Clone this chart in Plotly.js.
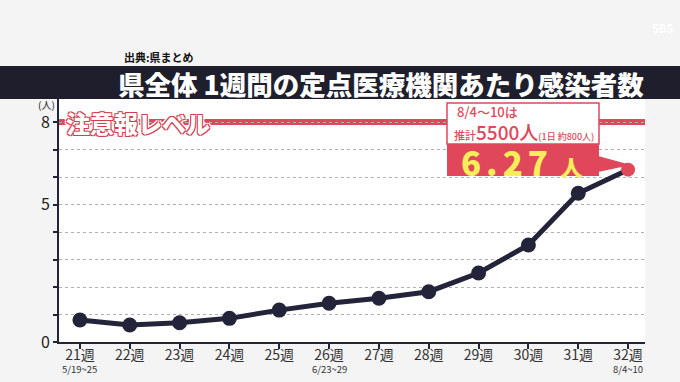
<!DOCTYPE html>
<html><head><meta charset="utf-8">
<script src="https://cdn.plot.ly/plotly-3.0.1.min.js"></script>
<style>html,body{margin:0;padding:0;background:#f4f4f4;}#chart{width:680px;height:382px;}</style>
</head><body><div id="chart"></div>
<script>
const weeks = ["21週","22週","23週","24週","25週","26週","27週","28週","29週","30週","31週","32週"];
const weekDates = ["5/19~25","","","","","6/23~29","","","","","","8/4~10"];
const perClinic = [0.8, 0.62, 0.7, 0.86, 1.16, 1.41, 1.59, 1.83, 2.51, 3.53, 5.41, 6.27];
const yTickVals = [0,1,2,3,4,5,6,7,8];
const yTickText = ["0","","","","","5","","","8"];
const alertLevel = 8;
const titleText = "県全体 1週間の定点医療機関あたり感染者数";
const sourceText = "出典:県まとめ";
const alertText = "注意報レベル";
const noteLine1 = "8/4〜10は";
const noteLine2a = "推計";
const noteLine2b = "5500人";
const noteLine2c = "(1日 約800人)";
const latestText = "6.27";
const unitText = "人";

const navy = "#23233a";
const red = "#e0475a";
const FONT = "Noto Sans CJK JP, sans-serif";

// plot area pixels
const L = 59, R = 645, T = 99, B = 342, W = 680, H = 382;
const px = x => (x - L) / (R - L);
const py = y => (B - y) / (B - T);

const n = perClinic.length;
const markerColors = perClinic.map((v,i) => i === n-1 ? red : navy);
const markerSizes = perClinic.map((v,i) => i === n-1 ? 14 : 15);

const trace = {
  x: weeks, y: perClinic, type: "scatter", mode: "lines+markers",
  line: {color: navy, width: 5},
  marker: {color: markerColors, size: markerSizes, opacity: 1, line: {width: 0}},
  opacity: 1, cliponaxis: false, hoverinfo: "skip"
};

const dateAnnotations = weeks.map((w,i) => weekDates[i] ? {
  xref: "x", yref: "paper", x: w, y: py(369), xanchor: "center", yanchor: "middle",
  text: weekDates[i], showarrow: false, font: {size: 9.5, color: "#333", family: FONT}
} : null).filter(a => a);

const layout = {
  width: W, height: H,
  paper_bgcolor: "#f4f4f4", plot_bgcolor: "#ffffff",
  margin: {l: L, r: W - R, t: T, b: H - B, pad: 0},
  showlegend: false,
  font: {family: FONT, color: "#222"},
  xaxis: {
    type: "category", range: [-0.42, 11.34], tickmode: "array",
    tickvals: weeks, ticktext: weeks,
    showline: true, linecolor: navy, linewidth: 2,
    ticks: "outside", ticklen: 5, tickwidth: 2, tickcolor: navy,
    ticklabelstandoff: -6,
    showgrid: false, zeroline: false,
    tickfont: {size: 14, color: "#333", family: FONT}
  },
  yaxis: {
    range: [0, 8.84], tickmode: "array", tickvals: yTickVals, ticktext: yTickText,
    showline: true, linecolor: navy, linewidth: 2,
    ticks: "outside", ticklen: 4, tickwidth: 2, tickcolor: navy,
    showgrid: true, gridcolor: "#b0b0b0", gridwidth: 1, griddash: "dot",
    zeroline: false, tickfont: {size: 16, color: "#222", family: FONT}
  },
  shapes: [
    {type: "rect", xref: "paper", yref: "paper", x0: px(0), x1: px(W), y0: py(99), y1: py(66),
     fillcolor: "#1e1e2c", line: {width: 0}, layer: "above"},
    {type: "line", xref: "paper", yref: "y", x0: 0, x1: 1, y0: alertLevel, y1: alertLevel,
     line: {color: red, width: 6}, layer: "below"},
    {type: "rect", xref: "paper", yref: "paper", x0: px(447), x1: px(599), y0: py(144), y1: py(103),
     fillcolor: "#ffffff", line: {color: red, width: 1.5}, layer: "above"},
    {type: "rect", xref: "paper", yref: "paper", x0: px(447), x1: px(599), y0: py(176), y1: py(144),
     fillcolor: red, line: {width: 0}, layer: "above"},
    {type: "path", xref: "paper", yref: "paper",
     path: `M ${px(598)} ${py(156)} L ${px(631)} ${py(165)} L ${px(598)} ${py(172)} Z`,
     fillcolor: red, line: {width: 0}, layer: "above"}
  ],
  annotations: [
    {xref: "paper", yref: "paper", x: px(122), y: py(57), xanchor: "left", yanchor: "middle",
     text: sourceText, showarrow: false, font: {size: 11, color: "#111", family: FONT, weight: 700}},
    {xref: "paper", yref: "paper", x: px(646), y: py(83), xanchor: "right", yanchor: "middle",
     text: titleText, showarrow: false, font: {size: 26.5, color: "#ffffff", family: FONT, weight: 900}},
    {xref: "paper", yref: "paper", x: px(57), y: py(104), xanchor: "right", yanchor: "middle",
     text: "(人)", showarrow: false, font: {size: 10, color: "#222", family: FONT}},
    {xref: "paper", yref: "y", x: px(64), y: alertLevel, xanchor: "left", yanchor: "middle",
     text: alertText, showarrow: false,
     font: {size: 24, color: "#ffffff", family: FONT, weight: 900,
       shadow: "-1px -1px 0 #d63c50, 1px -1px 0 #d63c50, -1px 1px 0 #d63c50, 1px 1px 0 #d63c50, 0 -2px 0 #fff, 0 2px 0 #fff, -2px 0 0 #fff, 2px 0 0 #fff, -2px -2px 0 #fff, 2px -2px 0 #fff, -2px 2px 0 #fff, 2px 2px 0 #fff"}},
    {xref: "paper", yref: "paper", x: px(455), y: py(111), xanchor: "left", yanchor: "middle",
     text: noteLine1, showarrow: false, font: {size: 13, color: red, family: FONT, weight: 500}},
    {xref: "paper", yref: "paper", x: px(452), y: py(131), xanchor: "left", yanchor: "middle",
     text: "<span style='font-size:11px'>" + noteLine2a + "</span><span style='font-size:19px'>" + noteLine2b + "</span><span style='font-size:9px'>" + noteLine2c + "</span>",
     showarrow: false, font: {size: 11, color: red, family: FONT, weight: 500}},
    {xref: "paper", yref: "paper", x: px(521), y: py(162), xanchor: "center", yanchor: "middle",
     text: "<span style='letter-spacing:5px'>" + latestText + "</span> <span style='font-size:22px'>" + unitText + "</span>",
     showarrow: false, font: {size: 33, color: "#f7ef5a", family: FONT, weight: 900}},
    {xref: "paper", yref: "paper", x: px(662), y: py(28), xanchor: "center", yanchor: "middle",
     text: "SBS", showarrow: false, font: {size: 11, color: "#ffffff", family: FONT, weight: 700}}
  ].concat(dateAnnotations)
};

Plotly.newPlot("chart", [trace], layout, {staticPlot: true, displayModeBar: false});
</script></body></html>
